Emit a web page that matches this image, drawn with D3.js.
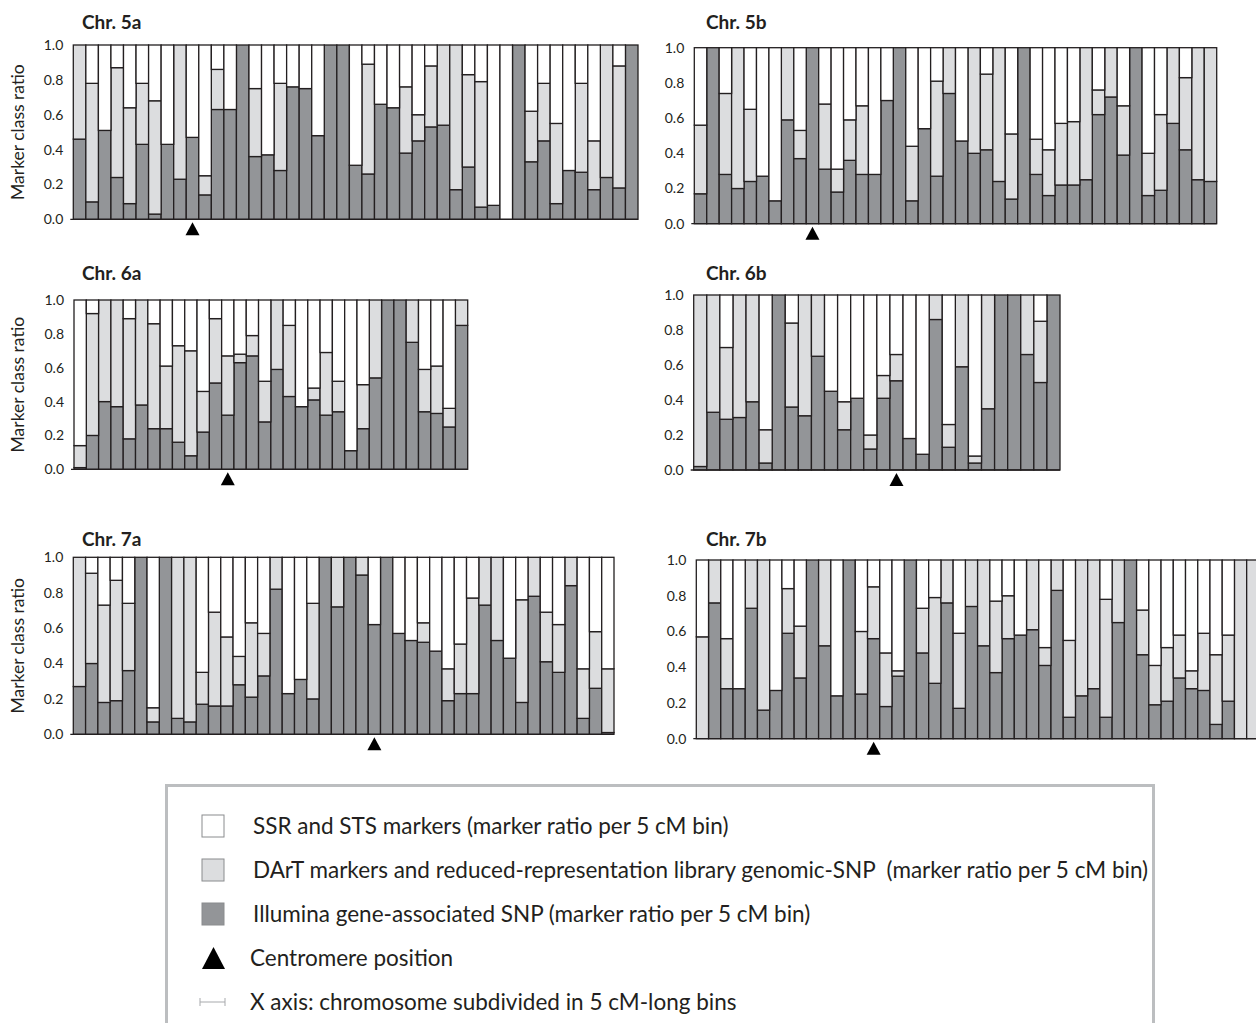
<!DOCTYPE html>
<html>
<head>
<meta charset="utf-8">
<title>Marker class ratio per 5 cM bin</title>
<script src="https://cdn.jsdelivr.net/npm/d3@7"></script>
<style>
  body { margin: 0; background: #fff; }
  text { font-family: Lato, "Open Sans", sans-serif; fill: #231f20; }
  .lab { white-space: pre; }
</style>
</head>
<body>
<script>

// marker class ratios per 5 cM bin
// snp = Illumina gene-associated SNP, dart = DArT + genomic-SNP, rest is SSR/STS

var chr5a_snp  = [0.46,0.10,0.51,0.24,0.09,0.43,0.03,0.43,0.23,0.47,0.14,0.63,0.63,1.00,0.36,0.37,0.28,0.76,0.75,0.48,1.00,1.00,0.31,0.26,0.66,0.64,0.38,0.45,0.53,0.54,0.17,0.30,0.07,0.08,0.00,1.00,0.33,0.45,0.09,0.28,0.27,0.17,0.24,0.18,1.00];
var chr5a_dart = [0.54,0.68,0.00,0.63,0.55,0.35,0.65,0.00,0.77,0.00,0.11,0.23,0.00,0.00,0.39,0.00,0.50,0.00,0.00,0.00,0.00,0.00,0.00,0.63,0.00,0.00,0.38,0.15,0.35,0.46,0.83,0.53,0.72,0.00,0.00,0.00,0.29,0.33,0.46,0.00,0.51,0.28,0.76,0.70,0.00];

var chr5b_snp  = [0.17,1.00,0.28,0.20,0.24,0.27,0.13,0.59,0.37,1.00,0.31,0.18,0.36,0.28,0.28,0.70,1.00,0.13,0.54,0.27,0.74,0.47,0.40,0.42,0.24,0.14,1.00,0.28,0.16,0.22,0.22,0.25,0.62,0.72,0.39,1.00,0.16,0.19,0.57,0.42,0.25,0.24];
var chr5b_dart = [0.39,0.00,0.46,0.80,0.41,0.00,0.00,0.41,0.16,0.00,0.37,0.13,0.23,0.39,0.00,0.00,0.00,0.31,0.00,0.54,0.26,0.00,0.60,0.43,0.76,0.37,0.00,0.20,0.26,0.35,0.36,0.75,0.14,0.28,0.28,0.00,0.24,0.43,0.43,0.41,0.75,0.76];

var chr6a_snp  = [0.01,0.20,0.40,0.37,0.18,0.38,0.24,0.24,0.16,0.08,0.22,0.51,0.32,0.63,0.67,0.28,0.59,0.43,0.37,0.41,0.32,0.34,0.11,0.24,0.54,1.00,1.00,0.75,0.34,0.33,0.25,0.85];
var chr6a_dart = [0.13,0.72,0.60,0.63,0.71,0.62,0.62,0.37,0.57,0.62,0.24,0.38,0.35,0.05,0.12,0.24,0.41,0.42,0.00,0.07,0.37,0.18,0.00,0.26,0.46,0.00,0.00,0.25,0.25,0.28,0.11,0.15];

var chr6b_snp  = [0.02,0.33,0.29,0.30,0.39,0.04,1.00,0.36,0.31,0.65,0.45,0.23,0.41,0.12,0.41,0.51,0.18,0.09,0.86,0.13,0.59,0.04,0.35,1.00,1.00,0.66,0.50,1.00];
var chr6b_dart = [0.98,0.67,0.41,0.70,0.61,0.19,0.00,0.48,0.69,0.35,0.00,0.16,0.00,0.08,0.13,0.15,0.00,0.00,0.14,0.13,0.41,0.04,0.65,0.00,0.00,0.34,0.35,0.00];

var chr7a_snp  = [0.27,0.40,0.18,0.19,0.36,1.00,0.07,1.00,0.09,0.07,0.17,0.16,0.16,0.28,0.21,0.33,0.82,0.23,0.31,0.20,1.00,0.72,1.00,0.90,0.62,1.00,0.57,0.53,0.52,0.47,0.19,0.23,0.23,0.73,0.53,0.43,0.18,0.78,0.41,0.35,0.84,0.09,0.26,0.01];
var chr7a_dart = [0.73,0.51,0.55,0.68,0.38,0.00,0.08,0.00,0.91,0.93,0.18,0.53,0.39,0.16,0.42,0.24,0.18,0.00,0.00,0.54,0.00,0.28,0.00,0.10,0.00,0.00,0.00,0.00,0.11,0.00,0.18,0.28,0.54,0.27,0.47,0.00,0.58,0.22,0.28,0.27,0.16,0.28,0.32,0.36];

var chr7b_snp  = [0.00,0.76,0.28,0.28,0.73,0.16,0.27,0.59,0.34,1.00,0.52,0.24,1.00,0.25,0.56,0.18,0.35,1.00,0.48,0.31,0.76,0.17,0.74,0.52,0.37,0.56,0.58,0.61,0.41,0.83,0.12,0.24,0.28,0.12,0.65,1.00,0.47,0.19,0.21,0.34,0.28,0.27,0.08,0.21,0.00,0.00];
var chr7b_dart = [0.57,0.24,0.28,0.00,0.27,0.84,0.00,0.25,0.29,0.00,0.48,0.00,0.00,0.35,0.29,0.30,0.03,0.00,0.25,0.48,0.24,0.42,0.26,0.48,0.40,0.24,0.00,0.39,0.10,0.17,0.43,0.76,0.72,0.66,0.35,0.00,0.25,0.22,0.30,0.24,0.10,0.32,0.39,0.37,1.00,1.00];

// bin (1-based) where the centromere sits
var centromere = { "5a": 10, "5b": 10, "6a": 13, "6b": 16, "7a": 25, "7b": 15 };

var yTicks = [0, 0.2, 0.4, 0.6, 0.8, 1.0];

var legendLabels = [
  "SSR and STS markers (marker ratio per 5 cM bin)",
  "DArT markers and reduced-representation library genomic-SNP  (marker ratio per 5 cM bin)",
  "Illumina gene-associated SNP (marker ratio per 5 cM bin)",
  "Centromere position",
  "X axis: chromosome subdivided in 5 cM-long bins"
];

var colors = { snp: "#939598", dart: "#dcdddf", ssr: "#ffffff" };
var ink = "#231f20";

// panel boxes on the page; ty = title baseline
var panels = [
  { name: "5a", snp: chr5a_snp, dart: chr5a_dart, x0: 73.3,  x1: 638,    y0: 45,    y1: 219.3, ty: 29,  tx: 82,  left: true },
  { name: "5b", snp: chr5b_snp, dart: chr5b_dart, x0: 694.3, x1: 1216.7, y0: 47.7,  y1: 223.7, ty: 29,  tx: 706, left: false },
  { name: "6a", snp: chr6a_snp, dart: chr6a_dart, x0: 74,    x1: 467.7,  y0: 300,   y1: 469.3, ty: 280, tx: 82,  left: true },
  { name: "6b", snp: chr6b_snp, dart: chr6b_dart, x0: 693.7, x1: 1060,   y0: 295,   y1: 470,   ty: 280, tx: 706, left: false },
  { name: "7a", snp: chr7a_snp, dart: chr7a_dart, x0: 73.3,  x1: 614,    y0: 557.3, y1: 734.3, ty: 546, tx: 82,  left: true },
  { name: "7b", snp: chr7b_snp, dart: chr7b_dart, x0: 696.3, x1: 1258.9, y0: 560,   y1: 738.7, ty: 546, tx: 706, left: false }
];

var W = 1256, H = 1023;

var svg = d3.select("body")
  .append("svg")
  .attr("width", W)
  .attr("height", H);

var stack = d3.stack().keys(["snp", "dart", "ssr"]);

panels.forEach(function(p) {
  var rows = p.snp.map(function(s, i) {
    var d = p.dart[i];
    return { bin: i + 1, snp: s, dart: d, ssr: Math.max(0, 1 - s - d) };
  });

  var x = d3.scaleBand()
    .domain(rows.map(function(r) { return r.bin; }))
    .range([p.x0, p.x1])
    .padding(0);

  var y = d3.scaleLinear().domain([0, 1]).range([p.y1, p.y0]);

  var g = svg.append("g");

  // title
  g.append("text")
    .attr("x", p.tx)
    .attr("y", p.ty)
    .attr("font-size", "19px")
    .attr("font-weight", "bold")
    .text("Chr. " + p.name);

  // y axis labels only
  var yAxis = d3.axisLeft(y)
    .tickValues(yTicks)
    .tickSize(0)
    .tickPadding(10)
    .tickFormat(d3.format(".1f"));

  g.append("g")
    .attr("transform", "translate(" + p.x0 + ",0)")
    .call(yAxis)
    .call(function(a) { a.select(".domain").remove(); })
    .selectAll("text")
    .attr("font-family", "Lato, 'Open Sans', sans-serif")
    .attr("font-size", "14px")
    .attr("fill", ink);

  if (p.left) {
    g.append("text")
      .attr("transform", "translate(" + 24 + "," + ((p.y0 + p.y1) / 2) + ") rotate(-90)")
      .attr("text-anchor", "middle")
      .attr("font-size", "17.5px")
      .text("Marker class ratio");
  }

  // stacked bars
  g.selectAll("g.layer")
    .data(stack(rows))
    .enter()
    .append("g")
    .attr("class", "layer")
    .attr("fill", function(s) { return colors[s.key]; })
    .selectAll("rect")
    .data(function(s) { return s.filter(function(d) { return d[1] - d[0] > 0.001; }); })
    .enter()
    .append("rect")
    .attr("x", function(d) { return x(d.data.bin); })
    .attr("y", function(d) { return y(d[1]); })
    .attr("width", x.bandwidth())
    .attr("height", function(d) { return y(d[0]) - y(d[1]); })
    .attr("stroke", ink)
    .attr("stroke-width", 1.3);

  // baseline
  g.append("line")
    .attr("x1", p.x0 - 3)
    .attr("x2", p.x1)
    .attr("y1", y(0))
    .attr("y2", y(0))
    .attr("stroke", ink)
    .attr("stroke-width", 1.3);

  // centromere triangle
  var cx = x(centromere[p.name]) + x.bandwidth() / 2;
  var ty = y(0) + 3;
  g.append("path")
    .attr("d", "M" + (cx - 7) + "," + (ty + 13) + "L" + cx + "," + ty + "L" + (cx + 7) + "," + (ty + 13) + "Z")
    .attr("fill", "#000");
});

// legend
var lg = svg.append("g");
lg.append("rect")
  .attr("x", 166.5)
  .attr("y", 785.5)
  .attr("width", 987)
  .attr("height", 260)
  .attr("fill", "none")
  .attr("stroke", "#bcbec0")
  .attr("stroke-width", 3);

var rowY = [826, 870, 914, 958, 1002];
var legendKeys = ["ssr", "dart", "snp"];

lg.selectAll("text.lab")
  .data(legendLabels)
  .enter()
  .append("text")
  .attr("class", "lab")
  .attr("x", function(d, i) { return i < 3 ? 253 : 250; })
  .attr("y", function(d, i) { return rowY[i]; })
  .attr("dy", "0.35em")
  .attr("font-size", "22.5px")
  .text(function(d) { return d; });

lg.selectAll("rect.sw")
  .data(legendKeys)
  .enter()
  .append("rect")
  .attr("class", "sw")
  .attr("x", 202)
  .attr("y", function(d, i) { return rowY[i] - 11; })
  .attr("width", 22)
  .attr("height", 22)
  .attr("fill", function(d) { return colors[d]; })
  .attr("stroke", "#8a8c8e")
  .attr("stroke-width", 1);

lg.append("path")
  .attr("d", "M202," + (rowY[3] + 11) + "L213.5," + (rowY[3] - 11) + "L225," + (rowY[3] + 11) + "Z")
  .attr("fill", "#000");

lg.append("path")
  .attr("d", "M200," + (rowY[4] - 4) + "V" + (rowY[4] + 4) + "M200," + rowY[4] + "H225M225," + (rowY[4] - 4) + "V" + (rowY[4] + 4))
  .attr("fill", "none")
  .attr("stroke", "#a7a9ac")
  .attr("stroke-width", 1);

</script>
</body>
</html>
